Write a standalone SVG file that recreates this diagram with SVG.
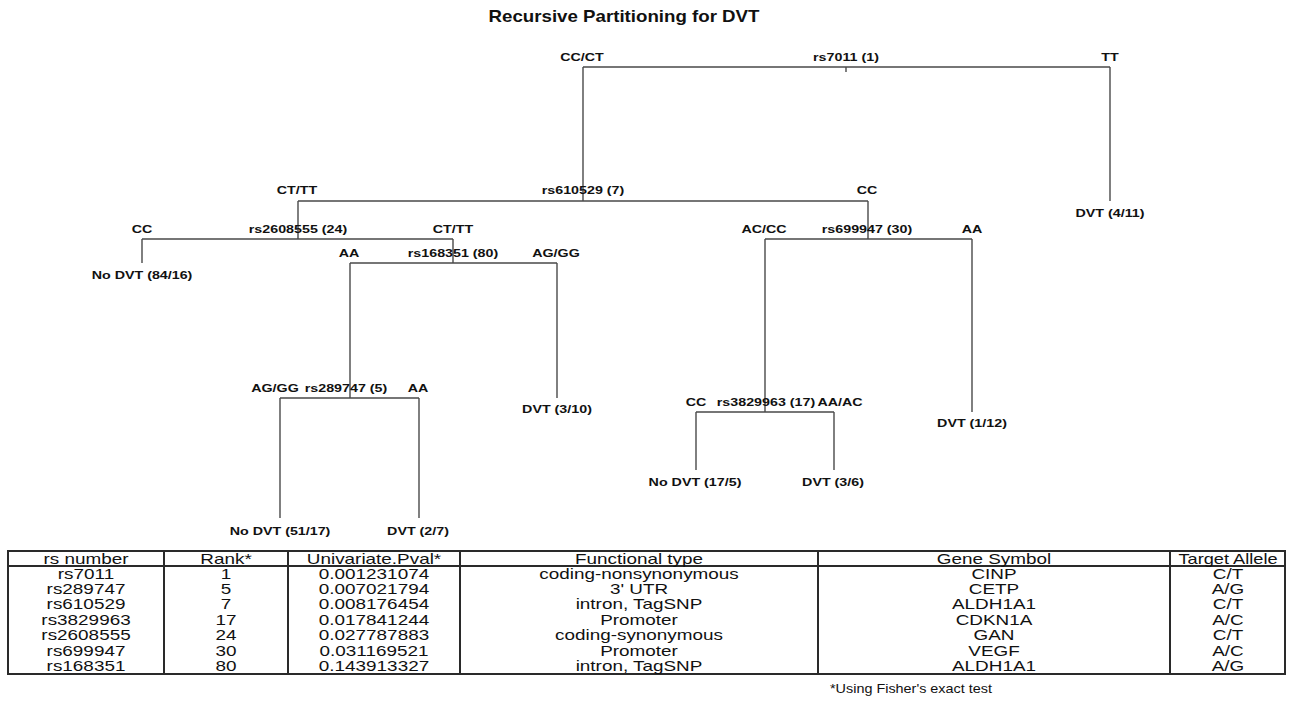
<svg xmlns="http://www.w3.org/2000/svg" width="1293" height="713" viewBox="0 0 1293 713">
<style>
.title{font-family:"Liberation Sans",Arial,sans-serif;font-weight:bold;font-size:17.3px;text-anchor:middle;fill:#111}
.lbl{font-family:"Liberation Sans",Arial,sans-serif;font-weight:bold;font-size:11.7px;text-anchor:middle;fill:#111}
.tc{font-family:"Liberation Sans",Arial,sans-serif;font-size:14px;text-anchor:middle;fill:#111}
.fn{font-family:"Liberation Sans",Arial,sans-serif;font-size:12px;fill:#111}
.edge{stroke:#4a4a4a;stroke-width:1.4;fill:none}
.grid{stroke:#2a2a2a;stroke-width:2;fill:none}
</style>
<rect width="1293" height="713" fill="#fff"/>
<text class="title" transform="translate(624 21.5) scale(1.08 1)">Recursive Partitioning for DVT</text>

<g id="connectors">
<path class="edge" d="M583 67H1110M846 67V72M583 67V201M1110 67V201"/>
<path class="edge" d="M298 201H868M298 201V239M868 201V239"/>
<path class="edge" d="M142 239H453M142 239V263M453 239V263"/>
<path class="edge" d="M350 263H557M350 263V398M557 263V398"/>
<path class="edge" d="M280 398H419M280 398V518M419 398V518"/>
<path class="edge" d="M765 239H972M765 239V412M972 239V412"/>
<path class="edge" d="M696 412H834M696 412V470M834 412V470"/>
</g>

<g id="node-rs7011">
<text class="lbl" transform="translate(846 60.5) scale(1.22 1)">rs7011 (1)</text>
<text class="lbl" transform="translate(582 60.5) scale(1.22 1)">CC/CT</text>
<text class="lbl" transform="translate(1110 60.5) scale(1.22 1)">TT</text>
</g>
<g id="node-rs610529">
<text class="lbl" transform="translate(583 194.3) scale(1.22 1)">rs610529 (7)</text>
<text class="lbl" transform="translate(297 194.3) scale(1.22 1)">CT/TT</text>
<text class="lbl" transform="translate(867 194.3) scale(1.22 1)">CC</text>
</g>
<g id="leaf-dvt-4-11">
<text class="lbl" transform="translate(1110 216.5) scale(1.22 1)">DVT (4/11)</text>
</g>
<g id="node-rs2608555">
<text class="lbl" transform="translate(298 233) scale(1.22 1)">rs2608555 (24)</text>
<text class="lbl" transform="translate(142 233) scale(1.22 1)">CC</text>
<text class="lbl" transform="translate(453 233) scale(1.22 1)">CT/TT</text>
</g>
<g id="leaf-nodvt-84-16">
<text class="lbl" transform="translate(142 279) scale(1.22 1)">No DVT (84/16)</text>
</g>
<g id="node-rs168351">
<text class="lbl" transform="translate(453 257) scale(1.22 1)">rs168351 (80)</text>
<text class="lbl" transform="translate(349 257) scale(1.22 1)">AA</text>
<text class="lbl" transform="translate(556 257) scale(1.22 1)">AG/GG</text>
</g>
<g id="node-rs699947">
<text class="lbl" transform="translate(867 233) scale(1.22 1)">rs699947 (30)</text>
<text class="lbl" transform="translate(764 233) scale(1.22 1)">AC/CC</text>
<text class="lbl" transform="translate(972 233) scale(1.22 1)">AA</text>
</g>
<g id="node-rs289747">
<text class="lbl" transform="translate(346 392) scale(1.22 1)">rs289747 (5)</text>
<text class="lbl" transform="translate(275 392) scale(1.22 1)">AG/GG</text>
<text class="lbl" transform="translate(418 392) scale(1.22 1)">AA</text>
</g>
<g id="leaf-dvt-3-10">
<text class="lbl" transform="translate(557 413) scale(1.22 1)">DVT (3/10)</text>
</g>
<g id="leaf-nodvt-51-17">
<text class="lbl" transform="translate(280 535) scale(1.22 1)">No DVT (51/17)</text>
</g>
<g id="leaf-dvt-2-7">
<text class="lbl" transform="translate(418 535) scale(1.22 1)">DVT (2/7)</text>
</g>
<g id="node-rs3829963">
<text class="lbl" transform="translate(766 405.7) scale(1.22 1)">rs3829963 (17)</text>
<text class="lbl" transform="translate(696 405.7) scale(1.22 1)">CC</text>
<text class="lbl" transform="translate(840 405.7) scale(1.22 1)">AA/AC</text>
</g>
<g id="leaf-dvt-1-12">
<text class="lbl" transform="translate(972 427) scale(1.22 1)">DVT (1/12)</text>
</g>
<g id="leaf-nodvt-17-5">
<text class="lbl" transform="translate(695 486) scale(1.22 1)">No DVT (17/5)</text>
</g>
<g id="leaf-dvt-3-6">
<text class="lbl" transform="translate(833 486) scale(1.22 1)">DVT (3/6)</text>
</g>

<g id="table">
<rect class="grid" x="8" y="551" width="1277" height="123"/>
<path class="grid" d="M8 566H1285M164 551V674M288 551V674M460 551V674M818 551V674M1170 551V674"/>
<g id="table-header">
<text class="tc" transform="translate(86 563.5) scale(1.35 1)">rs number</text>
<text class="tc" transform="translate(226 563.5) scale(1.35 1)">Rank*</text>
<text class="tc" transform="translate(374 563.5) scale(1.35 1)">Univariate.Pval*</text>
<text class="tc" transform="translate(639 563.5) scale(1.35 1)">Functional type</text>
<text class="tc" transform="translate(994 563.5) scale(1.35 1)">Gene Symbol</text>
<text class="tc" transform="translate(1228 563.5) scale(1.3 1)">Target Allele</text>
</g>
<g id="row-rs7011">
<text class="tc" transform="translate(86 578.5) scale(1.35 1)">rs7011</text>
<text class="tc" transform="translate(226 578.5) scale(1.35 1)">1</text>
<text class="tc" transform="translate(374 578.5) scale(1.35 1)">0.001231074</text>
<text class="tc" transform="translate(639 578.5) scale(1.35 1)">coding-nonsynonymous</text>
<text class="tc" transform="translate(994 578.5) scale(1.35 1)">CINP</text>
<text class="tc" transform="translate(1228 578.5) scale(1.35 1)">C/T</text>
</g>
<g id="row-rs289747">
<text class="tc" transform="translate(86 593.9) scale(1.35 1)">rs289747</text>
<text class="tc" transform="translate(226 593.9) scale(1.35 1)">5</text>
<text class="tc" transform="translate(374 593.9) scale(1.35 1)">0.007021794</text>
<text class="tc" transform="translate(639 593.9) scale(1.35 1)">3' UTR</text>
<text class="tc" transform="translate(994 593.9) scale(1.35 1)">CETP</text>
<text class="tc" transform="translate(1228 593.9) scale(1.35 1)">A/G</text>
</g>
<g id="row-rs610529">
<text class="tc" transform="translate(86 609.3) scale(1.35 1)">rs610529</text>
<text class="tc" transform="translate(226 609.3) scale(1.35 1)">7</text>
<text class="tc" transform="translate(374 609.3) scale(1.35 1)">0.008176454</text>
<text class="tc" transform="translate(639 609.3) scale(1.35 1)">intron, TagSNP</text>
<text class="tc" transform="translate(994 609.3) scale(1.35 1)">ALDH1A1</text>
<text class="tc" transform="translate(1228 609.3) scale(1.35 1)">C/T</text>
</g>
<g id="row-rs3829963">
<text class="tc" transform="translate(86 624.7) scale(1.35 1)">rs3829963</text>
<text class="tc" transform="translate(226 624.7) scale(1.35 1)">17</text>
<text class="tc" transform="translate(374 624.7) scale(1.35 1)">0.017841244</text>
<text class="tc" transform="translate(639 624.7) scale(1.35 1)">Promoter</text>
<text class="tc" transform="translate(994 624.7) scale(1.35 1)">CDKN1A</text>
<text class="tc" transform="translate(1228 624.7) scale(1.35 1)">A/C</text>
</g>
<g id="row-rs2608555">
<text class="tc" transform="translate(86 640.1) scale(1.35 1)">rs2608555</text>
<text class="tc" transform="translate(226 640.1) scale(1.35 1)">24</text>
<text class="tc" transform="translate(374 640.1) scale(1.35 1)">0.027787883</text>
<text class="tc" transform="translate(639 640.1) scale(1.35 1)">coding-synonymous</text>
<text class="tc" transform="translate(994 640.1) scale(1.35 1)">GAN</text>
<text class="tc" transform="translate(1228 640.1) scale(1.35 1)">C/T</text>
</g>
<g id="row-rs699947">
<text class="tc" transform="translate(86 655.5) scale(1.35 1)">rs699947</text>
<text class="tc" transform="translate(226 655.5) scale(1.35 1)">30</text>
<text class="tc" transform="translate(374 655.5) scale(1.35 1)">0.031169521</text>
<text class="tc" transform="translate(639 655.5) scale(1.35 1)">Promoter</text>
<text class="tc" transform="translate(994 655.5) scale(1.35 1)">VEGF</text>
<text class="tc" transform="translate(1228 655.5) scale(1.35 1)">A/C</text>
</g>
<g id="row-rs168351">
<text class="tc" transform="translate(86 670.9) scale(1.35 1)">rs168351</text>
<text class="tc" transform="translate(226 670.9) scale(1.35 1)">80</text>
<text class="tc" transform="translate(374 670.9) scale(1.35 1)">0.143913327</text>
<text class="tc" transform="translate(639 670.9) scale(1.35 1)">intron, TagSNP</text>
<text class="tc" transform="translate(994 670.9) scale(1.35 1)">ALDH1A1</text>
<text class="tc" transform="translate(1228 670.9) scale(1.35 1)">A/G</text>
</g>
</g>
<text class="fn" transform="translate(830 693) scale(1.2 1)">*Using Fisher's exact test</text>
</svg>
